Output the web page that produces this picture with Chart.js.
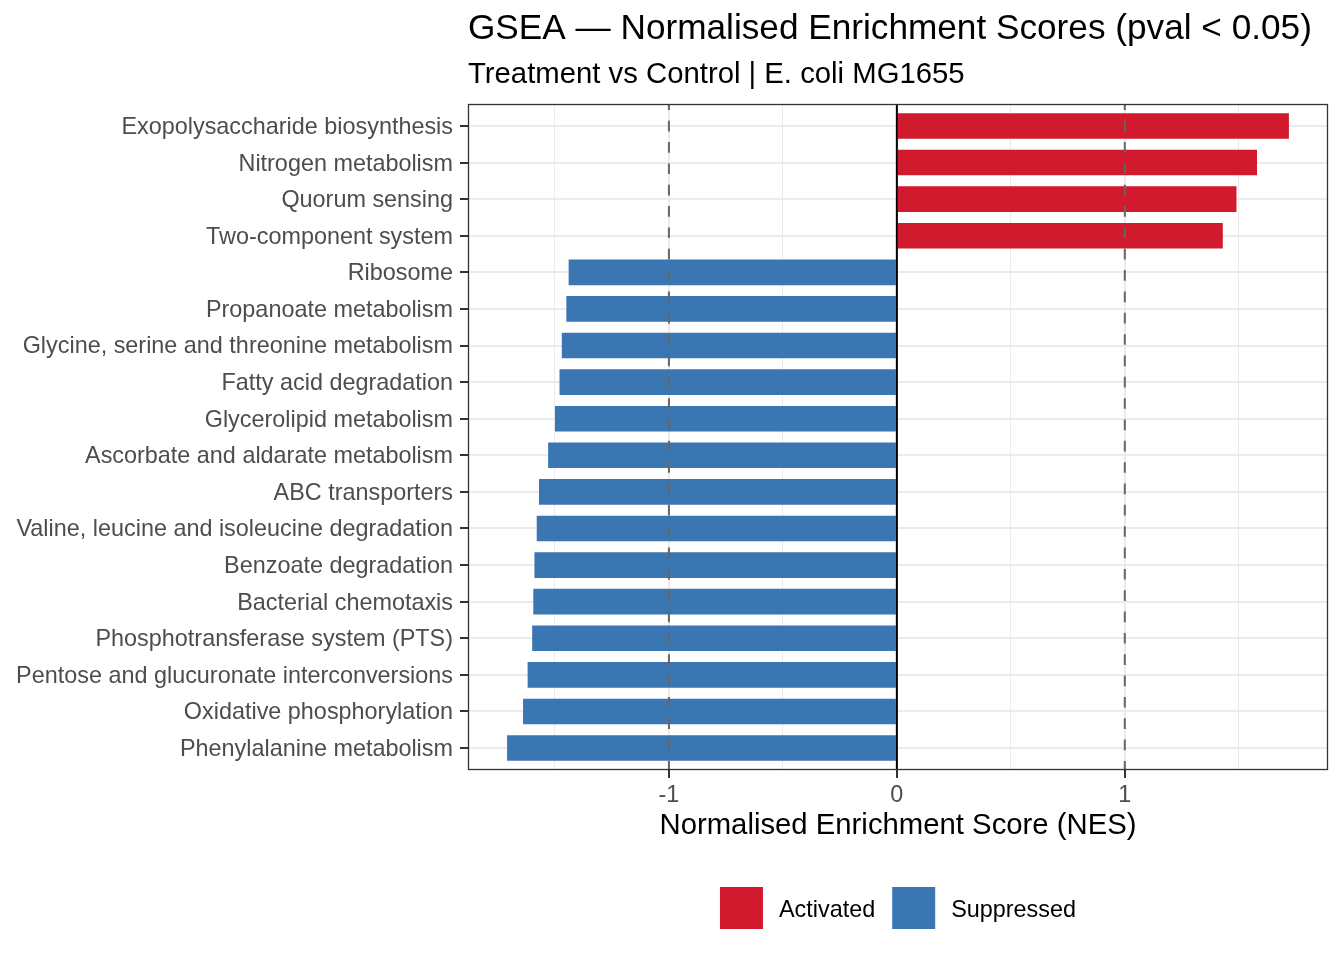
<!DOCTYPE html>
<html>
<head>
<meta charset="utf-8">
<script src="https://cdn.jsdelivr.net/npm/chart.js@4.4.1/dist/chart.umd.min.js"></script>
<style>
html,body{margin:0;padding:0;background:#ffffff;}
canvas{display:block;}
</style>
</head>
<body>
<canvas id="c" width="1344" height="960"></canvas>
<script>
// ---- data ----
const categories = [
  'Exopolysaccharide biosynthesis',
  'Nitrogen metabolism',
  'Quorum sensing',
  'Two-component system',
  'Ribosome',
  'Propanoate metabolism',
  'Glycine, serine and threonine metabolism',
  'Fatty acid degradation',
  'Glycerolipid metabolism',
  'Ascorbate and aldarate metabolism',
  'ABC transporters',
  'Valine, leucine and isoleucine degradation',
  'Benzoate degradation',
  'Bacterial chemotaxis',
  'Phosphotransferase system (PTS)',
  'Pentose and glucuronate interconversions',
  'Oxidative phosphorylation',
  'Phenylalanine metabolism'
];
const nesValues = [
  1.72, 1.58, 1.49, 1.43,
  -1.44, -1.45, -1.47, -1.48, -1.50, -1.53, -1.57, -1.58, -1.59, -1.595, -1.60, -1.62, -1.64, -1.71
];
const groupNames = ['Activated', 'Suppressed'];
const groupColors = ['#D21A2E', '#3A76B2'];
const xTickValues = [-1.5, -1, -0.5, 0, 0.5, 1, 1.5];
const refLines = [-1, 0, 1];
const titleText = 'GSEA \u2014 Normalised Enrichment Scores (pval < 0.05)';
const subtitleText = 'Treatment vs Control | E. coli MG1655';
const xAxisTitle = 'Normalised Enrichment Score (NES)';

// ---- derived ----
const FONT = '"Liberation Sans", Arial, Helvetica, sans-serif';
Chart.defaults.font.family = FONT;
const lo = Math.min(...nesValues), hi = Math.max(...nesValues);
const expand = 0.05 * (hi - lo);
const xMin = lo - expand, xMax = hi + expand;

const decor = {
  id: 'decor',
  afterDatasetsDraw(chart) {
    const {ctx, chartArea: a, scales: {x}} = chart;
    ctx.save();
    refLines.forEach(v => {
      const px = x.getPixelForValue(v);
      ctx.beginPath();
      if (v === 0) {
        ctx.setLineDash([]);
        ctx.strokeStyle = '#000000';
        ctx.lineWidth = 2;
      } else {
        ctx.setLineDash([10.67, 10.67]);
        ctx.lineDashOffset = 4.6;
        ctx.strokeStyle = '#666666';
        ctx.lineWidth = 2;
      }
      ctx.moveTo(px, a.top);
      ctx.lineTo(px, a.bottom);
      ctx.stroke();
    });
    ctx.setLineDash([]);
    ctx.strokeStyle = '#333333';
    ctx.lineWidth = 1.3;
    ctx.strokeRect(a.left + 0.5, a.top + 0.5, a.right - a.left - 1, a.bottom - a.top - 1);
    ctx.restore();
  },
  afterDraw(chart) {
    const {ctx, chartArea: a} = chart;
    ctx.save();
    ctx.textAlign = 'left';
    ctx.textBaseline = 'alphabetic';
    ctx.fillStyle = '#000000';
    ctx.font = '35.2px ' + FONT;
    ctx.fillText(titleText, a.left, 38.5);
    ctx.font = '29.3px ' + FONT;
    ctx.fillText(subtitleText, a.left, 83.3);

    // legend
    ctx.font = '23.4px ' + FONT;
    const box = 43, boxH = 42, gapText = 16, gapItem = 17;
    const widths = groupNames.map(n => ctx.measureText(n).width);
    let total = 0;
    widths.forEach((w, i) => { total += box + gapText + w + (i < widths.length - 1 ? gapItem : 0); });
    let lx = (a.left + a.right) / 2 - total / 2;
    const ly = 887;
    groupNames.forEach((n, i) => {
      ctx.fillStyle = groupColors[i];
      ctx.fillRect(lx, ly, box, boxH);
      ctx.fillStyle = '#000000';
      ctx.fillText(n, lx + box + gapText, 916.7);
      lx += box + gapText + widths[i] + gapItem;
    });
    ctx.restore();
  }
};

new Chart(document.getElementById('c'), {
  type: 'bar',
  data: {
    datasets: [{
      data: categories.map((c, i) => ({x: nesValues[i], y: i + 1})),
      backgroundColor: nesValues.map(v => v > 0 ? groupColors[0] : groupColors[1]),
      borderWidth: 0,
      barPercentage: 0.7,
      categoryPercentage: 1
    }]
  },
  options: {
    indexAxis: 'y',
    responsive: false,
    animation: false,
    devicePixelRatio: 1,
    layout: {padding: {top: 104, right: 16, bottom: 0, left: 0}},
    plugins: {legend: {display: false}, tooltip: {enabled: false}, title: {display: false}},
    scales: {
      x: {
        type: 'linear',
        min: xMin,
        max: xMax,
        offset: false,
        afterBuildTicks: s => { s.ticks = xTickValues.map(v => ({value: v})); },
        afterFit: s => { s.height = 190; },
        grid: {
          offset: false,
          color: '#EBEBEB',
          lineWidth: c => (c.tick && Number.isInteger(c.tick.value)) ? 2 : 1,
          tickColor: c => (c.tick && Number.isInteger(c.tick.value)) ? '#333333' : 'rgba(0,0,0,0)',
          tickLength: 8,
          tickWidth: 2
        },
        border: {display: false},
        ticks: {
          autoSkip: false,
          maxRotation: 0,
          padding: 4,
          color: '#4D4D4D',
          font: {size: 23.4},
          callback: v => Number.isInteger(v) ? String(v) : ''
        },
        title: {
          display: true,
          text: xAxisTitle,
          color: '#000000',
          font: {size: 29.3},
          padding: {top: 0, bottom: 117}
        }
      },
      y: {
        type: 'linear',
        reverse: true,
        offset: false,
        min: 0.4,
        max: categories.length + 0.6,
        afterBuildTicks: s => { s.ticks = categories.map((c, i) => ({value: i + 1})); },
        afterFit: s => { s.width = 468; },
        grid: {offset: false, color: '#EBEBEB', lineWidth: 2, tickColor: '#333333', tickLength: 8, tickWidth: 2},
        border: {display: false},
        ticks: {
          autoSkip: false,
          padding: 7,
          labelOffset: 1.5,
          color: '#4D4D4D',
          font: {size: 23.4},
          callback: v => categories[v - 1] !== undefined ? categories[v - 1] : ''
        }
      }
    }
  },
  plugins: [decor]
});
</script>
</body>
</html>
